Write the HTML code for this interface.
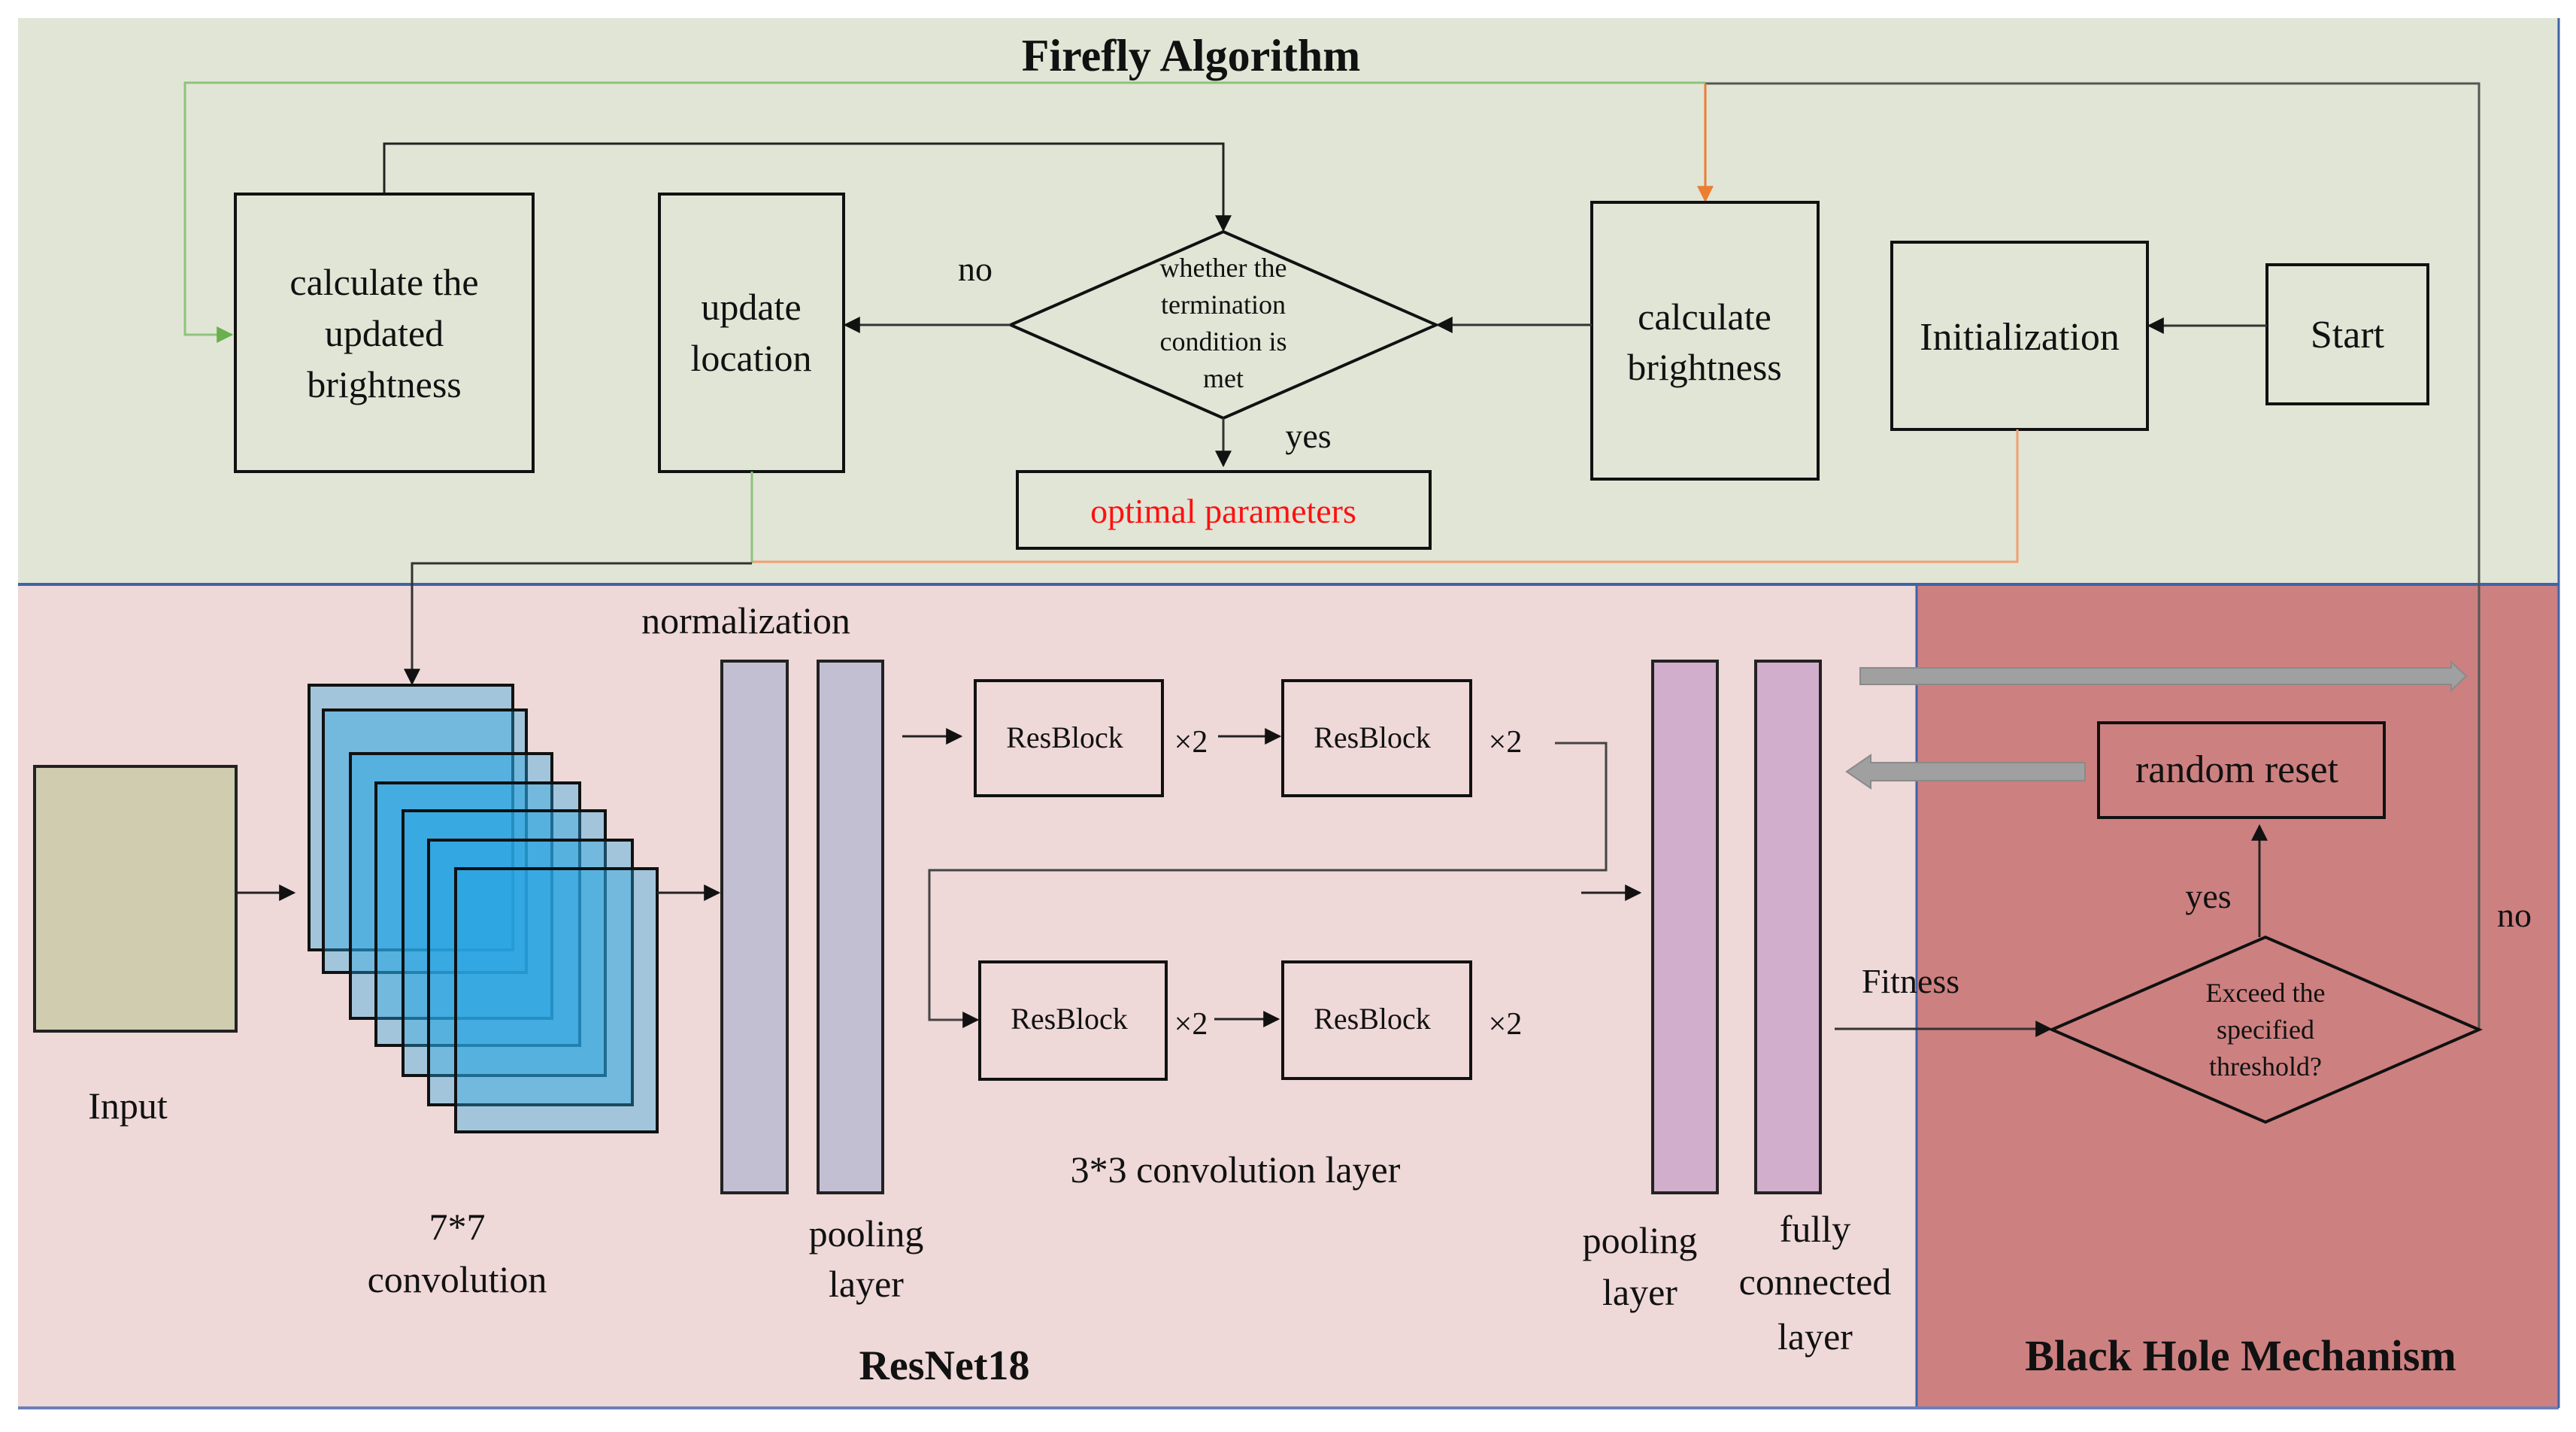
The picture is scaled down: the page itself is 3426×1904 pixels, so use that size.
<!DOCTYPE html>
<html><head><meta charset="utf-8"><style>
html,body{margin:0;padding:0;background:#fff}
svg{display:block}
svg text{font-family:"Liberation Serif","DejaVu Serif",serif;fill:#111}
</style></head><body>
<svg width="3426" height="1904" viewBox="0 0 3426 1904" xmlns="http://www.w3.org/2000/svg" font-family="Liberation Serif, serif">
<defs>
<marker id="abig" viewBox="0 0 10 10" refX="9" refY="5" markerWidth="22" markerHeight="22" orient="auto" markerUnits="userSpaceOnUse"><path d="M0,0 L10,5 L0,10 z" fill="#111"/></marker>
<marker id="ag" viewBox="0 0 10 10" refX="9" refY="5" markerWidth="22" markerHeight="22" orient="auto" markerUnits="userSpaceOnUse"><path d="M0,0 L10,5 L0,10 z" fill="#6ab04c"/></marker>
<marker id="ao" viewBox="0 0 10 10" refX="9" refY="5" markerWidth="22" markerHeight="22" orient="auto" markerUnits="userSpaceOnUse"><path d="M0,0 L10,5 L0,10 z" fill="#ed7d31"/></marker>
</defs>
<rect x="24" y="24" width="3379" height="753" fill="#e1e5d6"/>
<rect x="24" y="777" width="2525" height="1095" fill="#eed8d8"/>
<rect x="2549" y="777" width="854" height="1095" fill="#cd8080"/>
<line x1="24" y1="777" x2="3403" y2="777" stroke="#3f63a8" stroke-width="4"/>
<line x1="2549" y1="777" x2="2549" y2="1872" stroke="#3f63a8" stroke-width="3"/>
<line x1="24" y1="1872" x2="3403" y2="1872" stroke="#6a80b8" stroke-width="4"/>
<line x1="3403" y1="24" x2="3403" y2="1872" stroke="#3f63a8" stroke-width="3"/>

<text x="1584" y="94" font-size="60" font-weight="bold" text-anchor="middle">Firefly Algorithm</text>

<polyline points="2268,110 246,110 246,445 308,445" fill="none" stroke="#8cc47a" stroke-width="3" marker-end="url(#ag)"/>
<polyline points="2268,111 3297,111 3297,1369" fill="none" stroke="#555" stroke-width="3"/>
<line x1="2268" y1="111" x2="2268" y2="267" stroke="#ed7d31" stroke-width="3" marker-end="url(#ao)"/>
<polyline points="511,258 511,191 1627,191 1627,306" fill="none" stroke="#222" stroke-width="3" marker-end="url(#abig)"/>

<rect x="313" y="258" width="396" height="369" fill="none" stroke="#111" stroke-width="4"/>
<text font-size="50" text-anchor="middle"><tspan x="511" y="392">calculate the</tspan><tspan x="511" y="460">updated</tspan><tspan x="511" y="528">brightness</tspan></text>
<rect x="877" y="258" width="245" height="369" fill="none" stroke="#111" stroke-width="4"/>
<text font-size="50" text-anchor="middle"><tspan x="999" y="425">update</tspan><tspan x="999" y="493">location</tspan></text>
<polygon points="1344,432 1627,308 1910,432 1627,556" fill="none" stroke="#111" stroke-width="4"/>
<text font-size="36" text-anchor="middle"><tspan x="1627" y="368">whether the</tspan><tspan x="1627" y="417">termination</tspan><tspan x="1627" y="466">condition is</tspan><tspan x="1627" y="515">met</tspan></text>
<text x="1297" y="373" font-size="46" text-anchor="middle">no</text>
<line x1="1344" y1="432" x2="1124" y2="432" stroke="#333" stroke-width="3" marker-end="url(#abig)"/>
<line x1="1627" y1="556" x2="1627" y2="619" stroke="#333" stroke-width="3" marker-end="url(#abig)"/>
<text x="1740" y="595" font-size="46" text-anchor="middle">yes</text>
<rect x="1353" y="627" width="549" height="102" fill="none" stroke="#111" stroke-width="4"/>
<text x="1627" y="695" font-size="46" text-anchor="middle" style="fill:#ff1010">optimal parameters</text>
<rect x="2117" y="269" width="301" height="368" fill="none" stroke="#111" stroke-width="4"/>
<text font-size="50" text-anchor="middle"><tspan x="2267" y="438">calculate</tspan><tspan x="2267" y="505">brightness</tspan></text>
<line x1="2117" y1="432" x2="1912" y2="432" stroke="#333" stroke-width="3" marker-end="url(#abig)"/>
<rect x="2516" y="322" width="340" height="249" fill="none" stroke="#111" stroke-width="4"/>
<text x="2686" y="465" font-size="52" text-anchor="middle">Initialization</text>
<rect x="3015" y="352" width="214" height="185" fill="none" stroke="#111" stroke-width="4"/>
<text x="3122" y="462" font-size="52" text-anchor="middle">Start</text>
<line x1="3015" y1="433" x2="2858" y2="433" stroke="#333" stroke-width="3" marker-end="url(#abig)"/>

<polyline points="1000,747 2683,747 2683,571" fill="none" stroke="#f0a070" stroke-width="3"/>
<polyline points="1000,627 1000,749" fill="none" stroke="#8cc47a" stroke-width="3"/>
<polyline points="1000,749 548,749 548,909" fill="none" stroke="#333" stroke-width="3" marker-end="url(#abig)"/>

<rect x="46" y="1019" width="268" height="352" fill="#cfccb0" stroke="#222" stroke-width="4"/>
<text x="170" y="1487" font-size="50" text-anchor="middle">Input</text>
<line x1="314" y1="1187" x2="391" y2="1187" stroke="#222" stroke-width="3" marker-end="url(#abig)"/>
<g stroke="#111" stroke-width="4" fill="rgba(40,165,225,0.38)">
<rect x="411" y="911" width="271" height="352"/>
<rect x="430" y="944" width="270" height="349"/>
<rect x="466" y="1002" width="268" height="352"/>
<rect x="500" y="1041" width="271" height="349"/>
<rect x="536" y="1078" width="269" height="352"/>
<rect x="570" y="1117" width="271" height="352"/>
<rect x="606" y="1155" width="268" height="350"/>
</g>
<text font-size="50" text-anchor="middle"><tspan x="608" y="1648">7*7</tspan><tspan x="608" y="1718">convolution</tspan></text>
<line x1="874" y1="1187" x2="956" y2="1187" stroke="#222" stroke-width="3" marker-end="url(#abig)"/>
<text x="992" y="842" font-size="50" text-anchor="middle">normalization</text>
<rect x="960" y="879" width="87" height="707" fill="#c3bfd3" stroke="#222" stroke-width="4"/>
<rect x="1088" y="879" width="86" height="707" fill="#c3bfd3" stroke="#222" stroke-width="4"/>
<text font-size="50" text-anchor="middle"><tspan x="1152" y="1657">pooling</tspan><tspan x="1152" y="1724">layer</tspan></text>

<line x1="1200" y1="979" x2="1278" y2="979" stroke="#222" stroke-width="3" marker-end="url(#abig)"/>
<rect x="1297" y="905" width="249" height="153" fill="none" stroke="#111" stroke-width="4"/>
<text x="1416" y="994" font-size="40" text-anchor="middle">ResBlock</text>
<text x="1584" y="1000" font-size="42" text-anchor="middle">×2</text>
<line x1="1620" y1="979" x2="1702" y2="979" stroke="#222" stroke-width="3" marker-end="url(#abig)"/>
<rect x="1706" y="905" width="250" height="153" fill="none" stroke="#111" stroke-width="4"/>
<text x="1825" y="994" font-size="40" text-anchor="middle">ResBlock</text>
<text x="2002" y="1000" font-size="42" text-anchor="middle">×2</text>
<polyline points="2068,988 2136,988 2136,1157 1236,1157 1236,1356 1300,1356" fill="none" stroke="#444" stroke-width="3" marker-end="url(#abig)"/>
<rect x="1303" y="1279" width="248" height="156" fill="none" stroke="#111" stroke-width="4"/>
<text x="1422" y="1368" font-size="40" text-anchor="middle">ResBlock</text>
<text x="1584" y="1375" font-size="42" text-anchor="middle">×2</text>
<line x1="1615" y1="1355" x2="1700" y2="1355" stroke="#222" stroke-width="3" marker-end="url(#abig)"/>
<rect x="1706" y="1279" width="250" height="155" fill="none" stroke="#111" stroke-width="4"/>
<text x="1825" y="1368" font-size="40" text-anchor="middle">ResBlock</text>
<text x="2002" y="1375" font-size="42" text-anchor="middle">×2</text>
<text x="1643" y="1572" font-size="50" text-anchor="middle">3*3 convolution layer</text>
<line x1="2103" y1="1187" x2="2181" y2="1187" stroke="#222" stroke-width="3" marker-end="url(#abig)"/>
<rect x="2198" y="879" width="86" height="707" fill="#d1aecb" stroke="#222" stroke-width="4"/>
<rect x="2335" y="879" width="86" height="707" fill="#d1aecb" stroke="#222" stroke-width="4"/>
<text font-size="50" text-anchor="middle"><tspan x="2181" y="1666">pooling</tspan><tspan x="2181" y="1735">layer</tspan></text>
<text font-size="50" text-anchor="middle"><tspan x="2414" y="1651">fully</tspan><tspan x="2414" y="1721">connected</tspan><tspan x="2414" y="1794">layer</tspan></text>
<text x="1256" y="1834" font-size="56" font-weight="bold" text-anchor="middle">ResNet18</text>

<polygon points="2474,888 3260,888 3260,880 3280,899 3260,918 3260,910 2474,910" fill="#a0a0a0" stroke="#8a8a8a" stroke-width="2"/>
<polygon points="2773,1014 2488,1014 2488,1004 2456,1026 2488,1048 2488,1038 2773,1038" fill="#a0a0a0" stroke="#8a8a8a" stroke-width="2"/>

<rect x="2791" y="961" width="380" height="126" fill="none" stroke="#111" stroke-width="4"/>
<text x="2975" y="1040" font-size="52" text-anchor="middle">random reset</text>
<line x1="3005" y1="1246" x2="3005" y2="1098" stroke="#222" stroke-width="3" marker-end="url(#abig)"/>
<text x="2937" y="1207" font-size="46" text-anchor="middle">yes</text>
<polygon points="2729,1369 3013,1246 3297,1369 3013,1492" fill="none" stroke="#111" stroke-width="4"/>
<text font-size="36" text-anchor="middle"><tspan x="3013" y="1332">Exceed the</tspan><tspan x="3013" y="1381">specified</tspan><tspan x="3013" y="1430">threshold?</tspan></text>
<text x="3344" y="1232" font-size="46" text-anchor="middle">no</text>
<text x="2541" y="1320" font-size="46" text-anchor="middle">Fitness</text>
<line x1="2440" y1="1368" x2="2727" y2="1368" stroke="#333" stroke-width="3" marker-end="url(#abig)"/>
<text x="2980" y="1822" font-size="58" font-weight="bold" text-anchor="middle">Black Hole Mechanism</text>
</svg>
</body></html>
